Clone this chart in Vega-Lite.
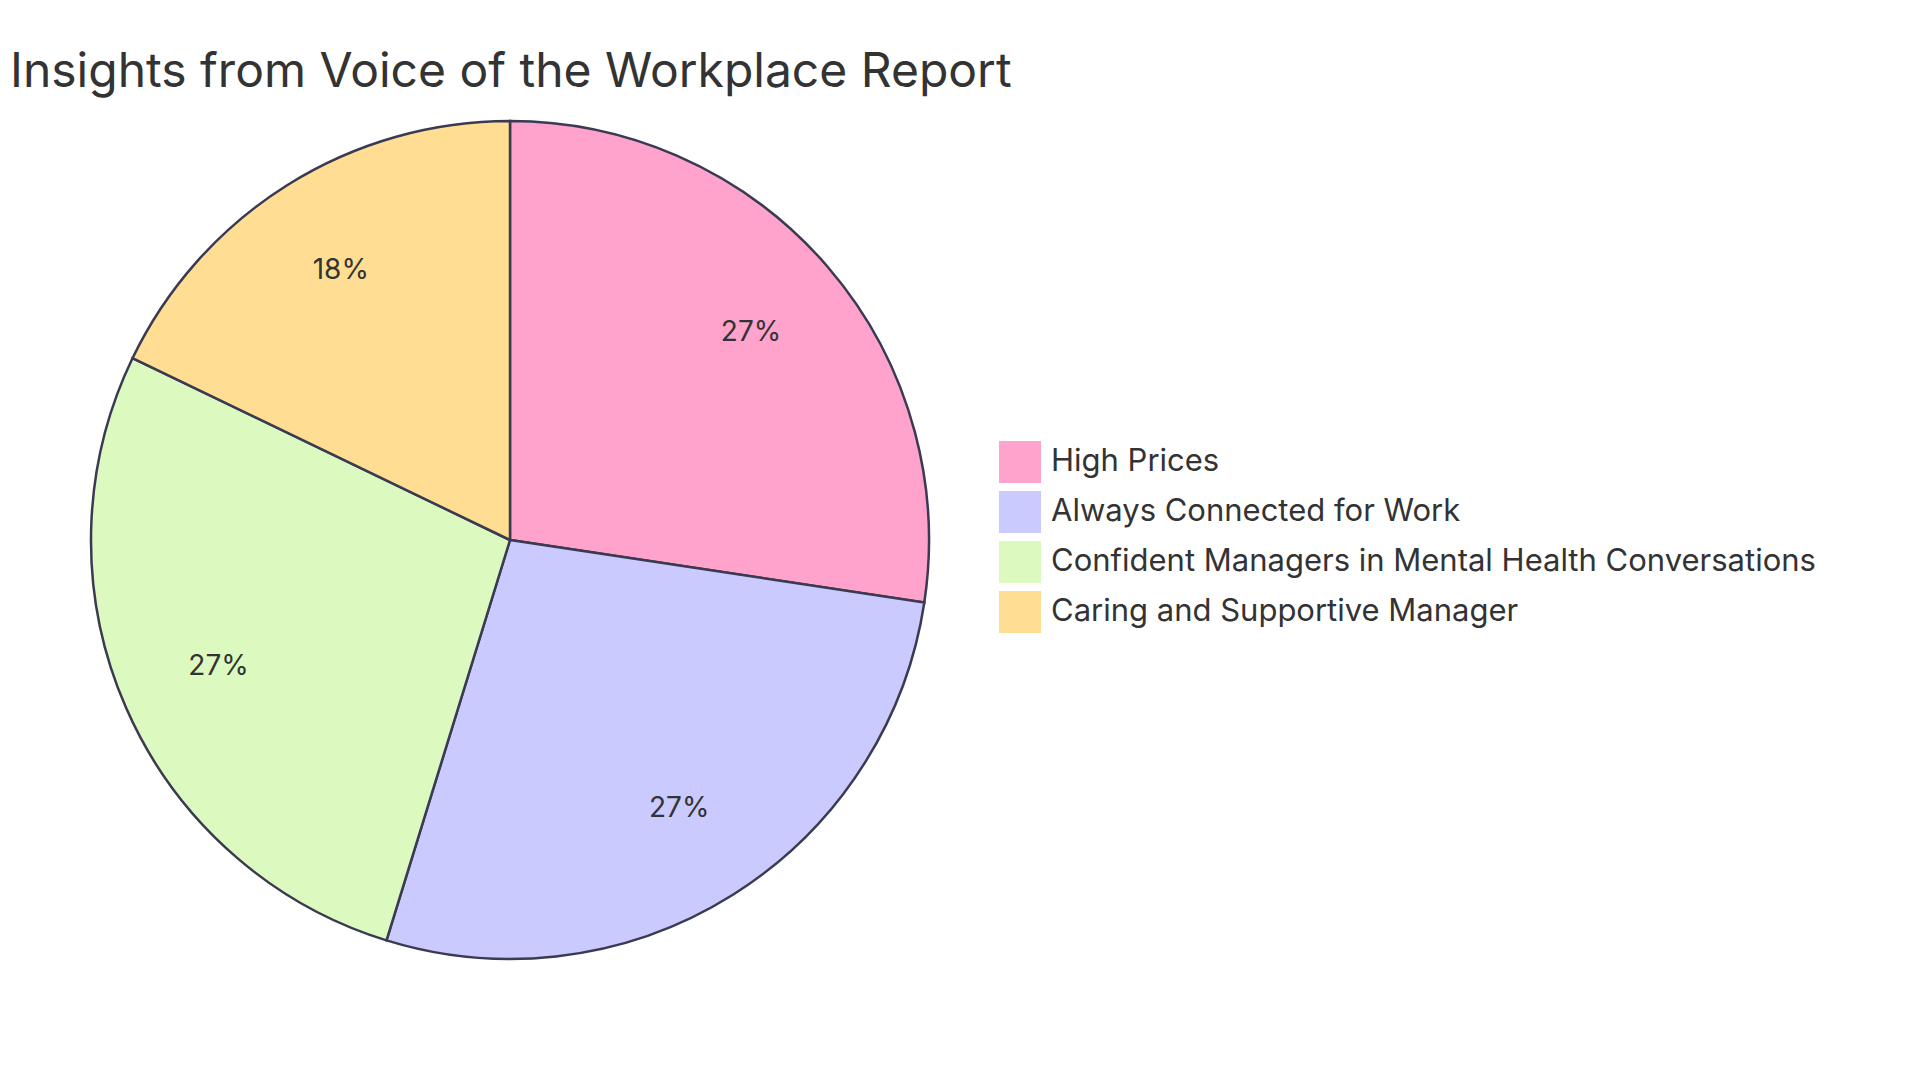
{
  "$schema": "https://vega.github.io/schema/vega-lite/v6.json",
  "autosize": {"type": "none"},
  "width": 840,
  "height": 840,
  "padding": {"left": 90, "top": 120, "right": 990, "bottom": 120},
  "background": "white",
  "title": {
    "text": "Insights from Voice of the Workplace Report",
    "anchor": "start",
    "frame": "group",
    "dx": -80,
    "dy": 50,
    "offset": 31,
    "baseline": "alphabetic",
    "fontSize": 48,
    "font": "Inter",
    "fontWeight": "normal",
    "color": "#333333"
  },
  "data": {
    "values": [
      {"category": "High Prices", "value": 46, "order": 1},
      {"category": "Always Connected for Work", "value": 46, "order": 2},
      {"category": "Confident Managers in Mental Health Conversations", "value": 46, "order": 3},
      {"category": "Caring and Supportive Manager", "value": 30, "order": 4}
    ]
  },
  "transform": [
    {"joinaggregate": [{"op": "sum", "field": "value", "as": "total"}]},
    {"calculate": "datum.value / datum.total", "as": "share"}
  ],
  "encoding": {
    "theta": {"field": "value", "type": "quantitative", "stack": true},
    "order": {"field": "order", "type": "ordinal"},
    "color": {
      "field": "category",
      "type": "nominal",
      "sort": ["High Prices", "Always Connected for Work", "Confident Managers in Mental Health Conversations", "Caring and Supportive Manager"],
      "scale": {
        "domain": ["High Prices", "Always Connected for Work", "Confident Managers in Mental Health Conversations", "Caring and Supportive Manager"],
        "range": ["#FFA3CD", "#CACAFF", "#DCFAC0", "#FFDE94"]
      },
      "legend": {
        "title": null,
        "orient": "none",
        "legendX": 909,
        "legendY": 321,
        "symbolType": "square",
        "symbolSize": 1764,
        "symbolStrokeWidth": 0,
        "symbolOpacity": 1,
        "labelFontSize": 31,
        "labelFont": "Inter",
        "labelColor": "#333333",
        "labelOffset": 10,
        "labelLimit": 1000,
        "rowPadding": 8
      }
    }
  },
  "layer": [
    {
      "mark": {"type": "arc", "outerRadius": 419, "stroke": "#3a3a52", "strokeWidth": 2.5}
    },
    {
      "mark": {"type": "text", "radius": 318, "fontSize": 28, "font": "Inter", "color": "#333333"},
      "encoding": {
        "text": {"field": "share", "type": "quantitative", "format": ".0%"},
        "color": {"value": "#333333"}
      }
    }
  ]
}
